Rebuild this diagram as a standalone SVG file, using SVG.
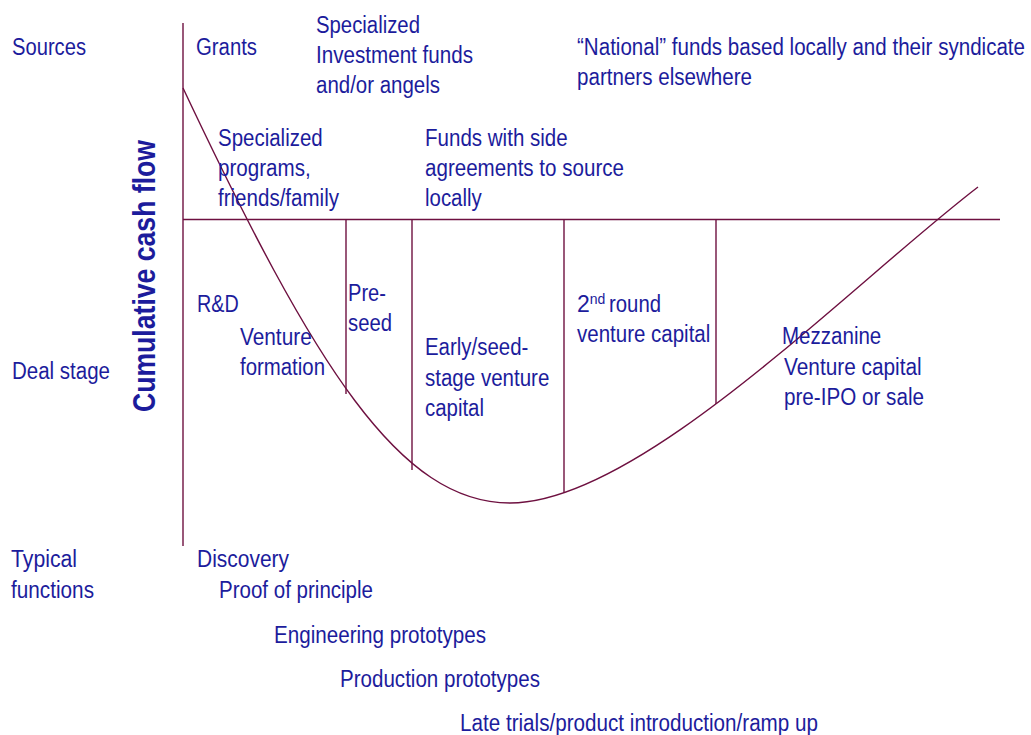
<svg xmlns="http://www.w3.org/2000/svg" width="1031" height="735" viewBox="0 0 1031 735">
<style>
.t{font-family:"Liberation Sans",Arial,sans-serif;font-size:23px;fill:#1c1c9c}
.b{font-family:"Liberation Sans",Arial,sans-serif;font-size:32px;font-weight:bold;fill:#1c1c9c}
.sup{font-size:14px}
.ln{stroke:#6e1040;stroke-width:1.4;fill:none}
</style>
<rect width="1031" height="735" fill="#ffffff"/>
<g id="connectors">
<line class="ln" x1="183" y1="23" x2="183" y2="546"/>
<line class="ln" x1="183" y1="219.5" x2="1000" y2="219.5"/>
<line class="ln" x1="346" y1="219.5" x2="346" y2="394"/>
<line class="ln" x1="412" y1="219.5" x2="412" y2="470"/>
<line class="ln" x1="564" y1="219.5" x2="564" y2="493"/>
<line class="ln" x1="716" y1="219.5" x2="716" y2="404"/>
<path class="ln" d="M183,88 C315,368 400,503 510,503 C640,503 850,285 978,187"/>
</g>
<g id="axis-label">
<text class="b" transform="translate(155,412) rotate(-90)" textLength="272" lengthAdjust="spacingAndGlyphs">Cumulative cash flow</text>
</g>
<g id="row-sources">
<text class="t" x="12" y="55" textLength="74" lengthAdjust="spacingAndGlyphs">Sources</text>
</g>
<g id="grants">
<text class="t" x="196" y="55" textLength="61" lengthAdjust="spacingAndGlyphs">Grants</text>
</g>
<g id="specialized-investment">
<text class="t" x="316" y="33" textLength="104" lengthAdjust="spacingAndGlyphs">Specialized</text>
<text class="t" x="316" y="63" textLength="157" lengthAdjust="spacingAndGlyphs">Investment funds</text>
<text class="t" x="316" y="93" textLength="124" lengthAdjust="spacingAndGlyphs">and/or angels</text>
</g>
<g id="national-funds">
<text class="t" x="577" y="55" textLength="448" lengthAdjust="spacingAndGlyphs">“National” funds based locally and their syndicate</text>
<text class="t" x="577" y="85" textLength="175" lengthAdjust="spacingAndGlyphs">partners elsewhere</text>
</g>
<g id="specialized-programs">
<text class="t" x="218" y="146" textLength="104.7" lengthAdjust="spacingAndGlyphs">Specialized</text>
<text class="t" x="218" y="176" textLength="92.7" lengthAdjust="spacingAndGlyphs">programs,</text>
<text class="t" x="218" y="206" textLength="121" lengthAdjust="spacingAndGlyphs">friends/family</text>
</g>
<g id="funds-side">
<text class="t" x="425" y="146" textLength="142.7" lengthAdjust="spacingAndGlyphs">Funds with side</text>
<text class="t" x="425" y="176" textLength="199" lengthAdjust="spacingAndGlyphs">agreements to source</text>
<text class="t" x="425" y="206" textLength="56.7" lengthAdjust="spacingAndGlyphs">locally</text>
</g>
<g id="row-deal">
<text class="t" x="12" y="379" textLength="98" lengthAdjust="spacingAndGlyphs">Deal stage</text>
</g>
<g id="rd">
<text class="t" x="197" y="312" textLength="41.7" lengthAdjust="spacingAndGlyphs">R&amp;D</text>
</g>
<g id="venture-formation">
<text class="t" x="240" y="345" textLength="71.7" lengthAdjust="spacingAndGlyphs">Venture</text>
<text class="t" x="240" y="375" textLength="85" lengthAdjust="spacingAndGlyphs">formation</text>
</g>
<g id="pre-seed">
<text class="t" x="348" y="301" textLength="38" lengthAdjust="spacingAndGlyphs">Pre-</text>
<text class="t" x="348" y="331" textLength="44" lengthAdjust="spacingAndGlyphs">seed</text>
</g>
<g id="early-seed">
<text class="t" x="425" y="355" textLength="103.3" lengthAdjust="spacingAndGlyphs">Early/seed-</text>
<text class="t" x="425" y="386" textLength="124.3" lengthAdjust="spacingAndGlyphs">stage venture</text>
<text class="t" x="425" y="416" textLength="59" lengthAdjust="spacingAndGlyphs">capital</text>
</g>
<g id="second-round">
<text class="t" x="577" y="312">2<tspan class="sup" dy="-8">nd</tspan><tspan dy="8" x="609" textLength="52" lengthAdjust="spacingAndGlyphs">round</tspan></text>
<text class="t" x="577" y="342" textLength="133.3" lengthAdjust="spacingAndGlyphs">venture capital</text>
</g>
<g id="mezzanine">
<text class="t" x="782" y="344" textLength="99.3" lengthAdjust="spacingAndGlyphs">Mezzanine</text>
<text class="t" x="784" y="375" textLength="137.7" lengthAdjust="spacingAndGlyphs">Venture capital</text>
<text class="t" x="784" y="405" textLength="140" lengthAdjust="spacingAndGlyphs">pre-IPO or sale</text>
</g>
<g id="row-functions">
<text class="t" x="11" y="567" textLength="66" lengthAdjust="spacingAndGlyphs">Typical</text>
<text class="t" x="11" y="598" textLength="83" lengthAdjust="spacingAndGlyphs">functions</text>
</g>
<g id="functions">
<text class="t" x="197" y="567" textLength="92" lengthAdjust="spacingAndGlyphs">Discovery</text>
<text class="t" x="219" y="598" textLength="154" lengthAdjust="spacingAndGlyphs">Proof of principle</text>
<text class="t" x="274" y="643" textLength="212" lengthAdjust="spacingAndGlyphs">Engineering prototypes</text>
<text class="t" x="340" y="687" textLength="200" lengthAdjust="spacingAndGlyphs">Production prototypes</text>
<text class="t" x="460" y="731" textLength="358" lengthAdjust="spacingAndGlyphs">Late trials/product introduction/ramp up</text>
</g>
</svg>
